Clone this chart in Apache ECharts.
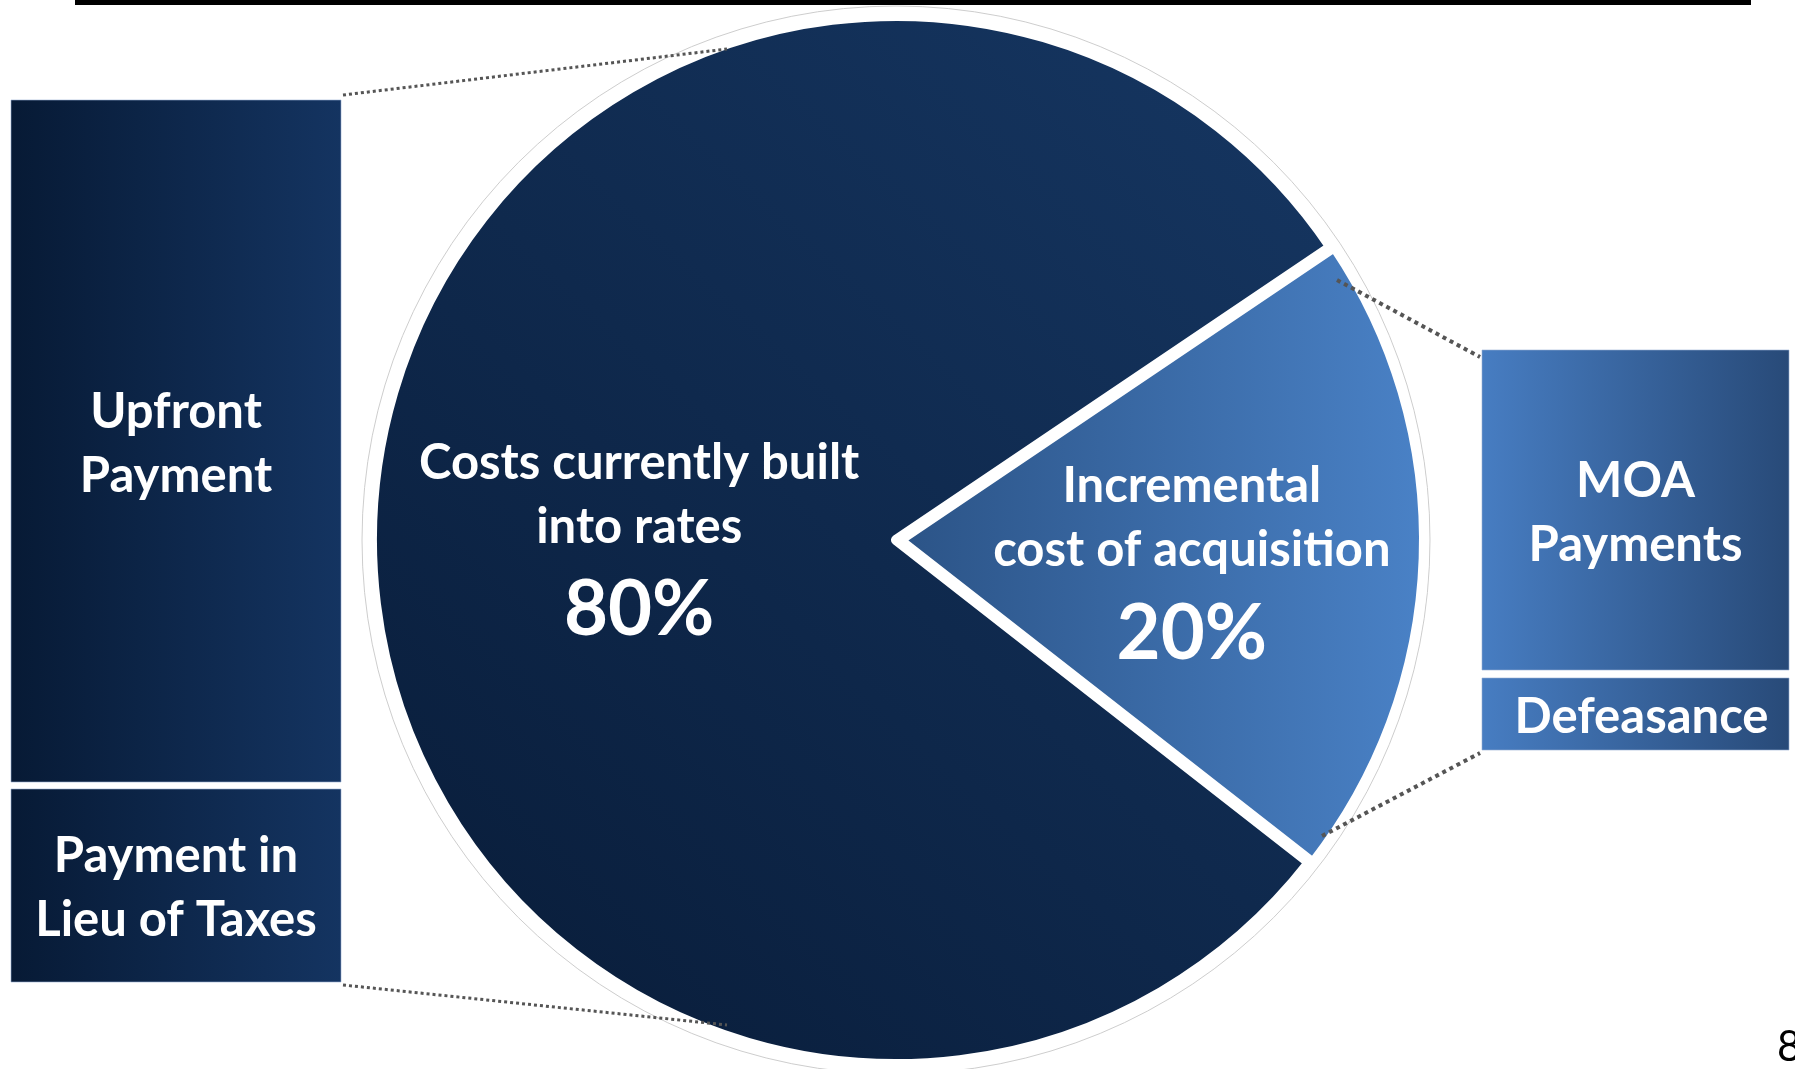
<!DOCTYPE html>
<html>
<head>
<meta charset="utf-8">
<script src="https://cdn.jsdelivr.net/npm/echarts@6/dist/echarts.min.js"></script>
<style>
  html, body { margin: 0; padding: 0; background: #fff; }
  #chart { width: 1795px; height: 1069px; }
</style>
</head>
<body>
<div id="chart"></div>
<script>
// data
const sliceNames = ['Incremental\ncost of acquisition', 'Costs currently built\ninto rates'];
const sliceValues = [20, 80];
const leftBoxLabels = ['Upfront\nPayment', 'Payment in\nLieu of Taxes'];
const rightBoxLabels = ['MOA\nPayments', 'Defeasance'];
const pageNumber = '8';

const chart = echarts.init(document.getElementById('chart'));
const FONT = 'Lato, "Open Sans", sans-serif';
const LABEL_SIZE = 49;
const LG = echarts.graphic.LinearGradient;

const darkBox = () => new LG(0, 0, 1, 0, [
  { offset: 0, color: '#071a35' },
  { offset: 1, color: '#143461' },
]);
const lightBox = () => new LG(0, 0, 1, 0, [
  { offset: 0, color: '#477dc2' },
  { offset: 1, color: '#284a78' },
]);

// a filled box with its centred caption
function box(x, y, w, h, fill, text, dx) {
  return [
    {
      type: 'rect',
      z: 100,
      shape: { x, y, width: w, height: h },
      style: { fill, stroke: 'rgba(150,175,210,0.6)', lineWidth: 1 },
    },
    {
      type: 'text',
      z: 101,
      x: x + w / 2 + (dx || 0),
      y: y + h / 2 + 3,
      style: {
        text,
        fill: '#fff',
        fontFamily: FONT,
        fontWeight: 'bold',
        fontSize: LABEL_SIZE,
        lineHeight: 64,
        align: 'center',
        verticalAlign: 'middle',
      },
    },
  ];
}

function dotted(x1, y1, x2, y2, w) {
  return {
    type: 'line',
    z: 100,
    shape: { x1, y1, x2, y2 },
    style: { stroke: '#555', lineWidth: w, lineDash: [w, w] },
  };
}

const labelRich = {
  name: { fontFamily: FONT, fontWeight: 'bold', fontSize: LABEL_SIZE, lineHeight: 64, color: '#fff' },
  pct: { fontFamily: FONT, fontWeight: 'bold', fontSize: 76, lineHeight: 104, color: '#fff' },
};

const option = {
  animation: false,
  series: [
    {
      // thin outline circle round the pie
      type: 'pie',
      silent: true,
      z: 1,
      center: [896, 540],
      radius: 534,
      label: { show: false },
      labelLine: { show: false },
      itemStyle: { color: '#fff', borderColor: '#cdcdcd', borderWidth: 1 },
      data: [{ value: 1, name: 'outline' }],
    },
    {
      type: 'pie',
      z: 2,
      center: [896, 540],
      radius: 524,
      startAngle: 34,
      clockwise: true,
      selectedMode: 'single',
      selectedOffset: 4,
      itemStyle: { borderColor: '#fff', borderWidth: 10 },
      labelLine: { show: false },
      label: {
        show: true,
        position: 'inside',
        formatter: (p) => `{name|${p.name}}\n{pct|${p.value}%}`,
        rich: labelRich,
      },
      data: [
        {
          name: sliceNames[0],
          value: sliceValues[0],
          selected: true,
          itemStyle: {
            color: new LG(0, 0, 1, 0, [
              { offset: 0, color: '#2b5386' },
              { offset: 1, color: '#4a82c7' },
            ]),
          },
          label: { padding: [42, 0, 0, 54] },
        },
        {
          name: sliceNames[1],
          value: sliceValues[1],
          itemStyle: {
            color: new LG(0, 1, 1, 0, [
              { offset: 0, color: '#081b37' },
              { offset: 1, color: '#163763' },
            ]),
          },
          label: { padding: [32, 0, 0, 16] },
        },
      ],
    },
  ],
  graphic: [
    { type: 'rect', z: 100, shape: { x: 75, y: 0, width: 1676, height: 5 }, style: { fill: '#000' } },
    ...box(11, 100, 330, 682, darkBox(), leftBoxLabels[0]),
    ...box(11, 789, 330, 193, darkBox(), leftBoxLabels[1]),
    ...box(1482, 350, 307, 320, lightBox(), rightBoxLabels[0]),
    ...box(1482, 678, 307, 72, lightBox(), rightBoxLabels[1], 6),
    dotted(343, 95, 727, 49, 3),
    dotted(343, 985, 727, 1025, 3),
    dotted(1337, 280, 1480, 357, 4),
    dotted(1322, 836, 1480, 753, 4),
    {
      type: 'text',
      z: 100,
      x: 1777,
      y: 1026,
      style: { text: pageNumber, fill: '#000', fontFamily: FONT, fontSize: 42 },
    },
  ],
};

chart.setOption(option);
window.addEventListener('resize', () => chart.resize());
</script>
</body>
</html>
